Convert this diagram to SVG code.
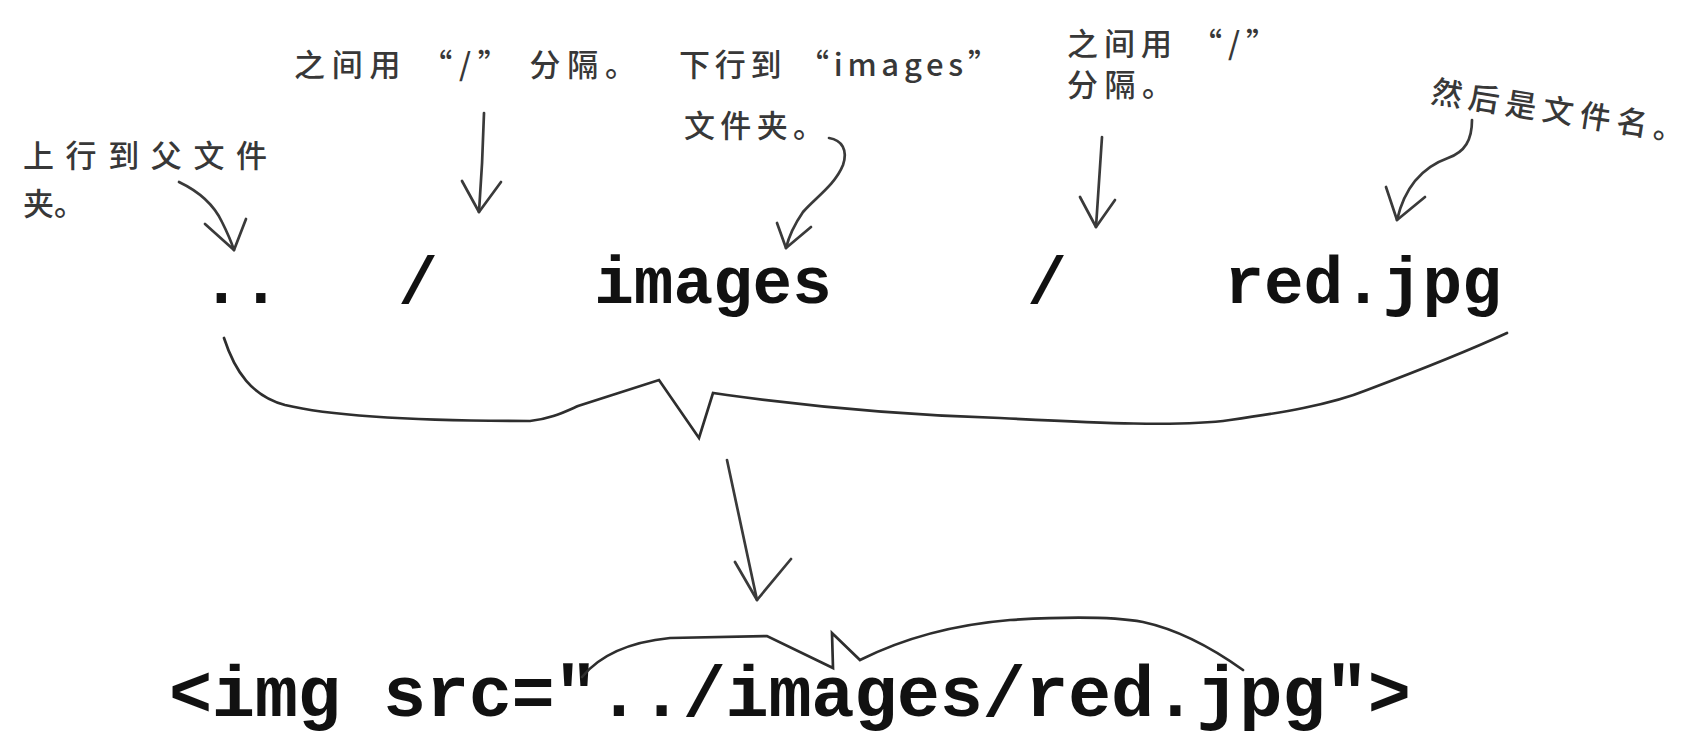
<svg xmlns="http://www.w3.org/2000/svg" width="1695" height="736" viewBox="0 0 1695 736">
<style>
.note{font-family:"Noto Sans CJK SC","Noto Sans",sans-serif;font-size:31px;font-weight:500;fill:#383838}
.code{font-family:"Liberation Mono","Courier New",monospace;font-weight:bold;font-size:66px;fill:#111}
.big{font-size:72px}
.ln{fill:none;stroke:#3a3a3a;stroke-width:2.7;stroke-linecap:round;stroke-linejoin:round}
.br{fill:none;stroke:#2e2e2e;stroke-width:2.7;stroke-linecap:round;stroke-linejoin:miter}
</style>
<rect width="1695" height="736" fill="#ffffff"/>

<g id="note-parent">
<text class="note" x="23" y="167" textLength="244" lengthAdjust="spacing">上行到父文件</text>
<text class="note" x="23" y="215">夹。</text>
</g>
<g id="note-sep1">
<text class="note" x="294" y="76" textLength="342" lengthAdjust="spacing">之间用 “/” 分隔。</text>
</g>
<g id="note-images">
<text class="note" x="679" y="76" textLength="320" lengthAdjust="spacing">下行到 “images”</text>
<text class="note" x="684" y="137" textLength="140" lengthAdjust="spacing">文件夹。</text>
</g>
<g id="note-sep2">
<text class="note" x="1067" y="55" textLength="210" lengthAdjust="spacing">之间用 “/”</text>
<text class="note" x="1067" y="96" textLength="106" lengthAdjust="spacing">分隔。</text>
</g>
<g id="note-file">
<text class="note" transform="translate(1430,102) rotate(9)" x="0" y="0" textLength="256" lengthAdjust="spacing">然后是文件名。</text>
</g>

<g id="tok-dotdot"><text class="code" x="241" y="303" text-anchor="middle">..</text></g>
<g id="tok-slash1"><text class="code" x="418" y="303" text-anchor="middle">/</text></g>
<g id="tok-images"><text class="code" x="713" y="303" text-anchor="middle">images</text></g>
<g id="tok-slash2"><text class="code" x="1047" y="303" text-anchor="middle">/</text></g>
<g id="tok-red"><text class="code" x="1363" y="303" text-anchor="middle">red.jpg</text></g>
<g id="img-tag"><text class="code big" x="169" y="716" textLength="1242" lengthAdjust="spacing">&lt;img src="../images/red.jpg"&gt;</text></g>

<g id="connectors">
<path class="ln" d="M179,182 C200,192 214,205 222,222 C228,234 232,244 234,250"/>
<path class="ln" d="M205,224 L234,250 L246,219"/>
<path class="ln" d="M484,113 C483,150 481,185 479,212"/>
<path class="ln" d="M462,181 L479,212 L501,182"/>
<path class="ln" d="M829,138 C842,140 848,150 843,165 C835,185 815,198 803,212 C794,225 789,236 786,248"/>
<path class="ln" d="M777,223 L786,248 L811,227"/>
<path class="ln" d="M1102,137 C1100,170 1098,200 1096,227"/>
<path class="ln" d="M1080,197 L1096,227 L1115,200"/>
<path class="ln" d="M1472,120 C1472,140 1465,152 1448,158 C1420,168 1404,190 1397,220"/>
<path class="ln" d="M1386,187 L1397,220 L1425,197"/>
<path class="br" d="M224,338 C235,372 252,396 285,405 C335,417 420,421 530,421 C550,419 562,413 578,406 L659,380 L699,438 L713,393 L727,395 C800,405 900,415 1000,418 C1100,423 1180,427 1230,420 C1280,413 1330,405 1367,390 C1420,370 1470,350 1507,333"/>
<path class="ln" d="M727,460 L757,600"/>
<path class="ln" d="M735,562 L757,600 L791,559"/>
<path class="br" d="M582,677 C600,655 630,642 670,638 L767,636 L833,668 L832,633 L860,660 C900,640 950,625 1010,620 C1060,617 1110,616 1143,622 C1180,630 1215,650 1243,670"/>
</g>
</svg>
